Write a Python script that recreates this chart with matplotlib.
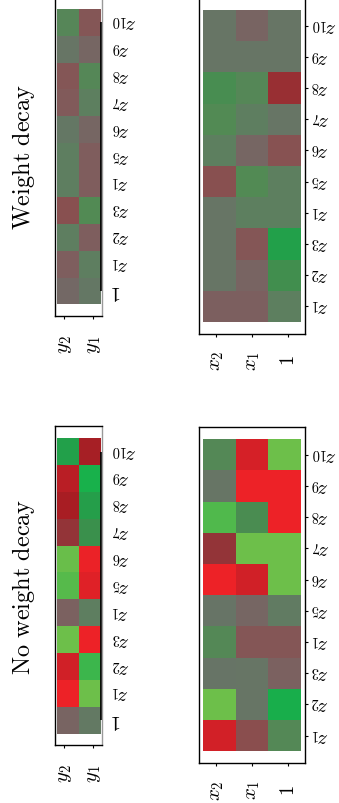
import numpy as np
import matplotlib
matplotlib.use("Agg")
import matplotlib.pyplot as plt
from matplotlib.colors import LinearSegmentedColormap

plt.rcParams["mathtext.fontset"] = "cm"

# terms (rows of the rotated picture, bottom to top)
OUT_TERMS = ["1", "z_1", "z_2", "z_3", "z_1", "z_5", "z_6", "z_7", "z_8", "z_9", "z_{10}"]
IN_TERMS = ["z_1", "z_2", "z_3", "z_1", "z_5", "z_6", "z_7", "z_8", "z_9", "z_{10}"]
OUT_VARS = ["y_2", "y_1"]
IN_VARS = ["x_2", "x_1", "1"]

# coefficients, one list per variable, ordered like OUT_TERMS / IN_TERMS
NWD_OUT = [
    [-0.10, -1.00, -0.80, 1.00, -0.12, 0.90, 0.98, -0.45, -0.60, -0.68, 0.60],
    [0.10, 1.00, 0.82, -1.00, 0.15, -0.90, -0.98, 0.45, 0.58, 0.72, -0.58],
]
NWD_IN = [
    [-0.82, 1.00, 0.05, 0.28, 0.05, -1.00, -0.45, 0.88, 0.06, 0.28],
    [-0.30, 0.06, 0.06, -0.22, -0.08, -0.80, 1.00, 0.35, -1.00, -0.84],
    [0.28, 0.70, -0.12, -0.22, 0.12, 1.00, 1.00, -1.00, -1.00, 1.00],
]
WD_OUT = [
    [-0.06, -0.15, 0.15, -0.28, 0.15, 0.15, 0.08, -0.18, -0.22, 0.06, 0.25],
    [0.08, 0.15, -0.15, 0.30, -0.16, -0.16, -0.08, 0.16, 0.26, -0.08, -0.22],
]
WD_IN = [
    [-0.14, 0.06, 0.06, 0.06, -0.28, 0.16, 0.30, 0.36, 0.06, 0.06],
    [-0.14, -0.10, -0.22, 0.16, 0.30, -0.08, 0.15, 0.26, 0.06, -0.10],
    [0.16, 0.40, 0.60, 0.16, 0.16, -0.26, 0.06, -0.48, 0.06, 0.06],
]
TITLES = ["No weight decay", "Weight decay"]

CMAP_STOPS = [
    (0.000, "#ed2227"), (0.100, "#cf2027"), (0.200, "#a81d23"),
    (0.275, "#933438"), (0.350, "#8a4e4e"), (0.425, "#7e5e5e"),
    (0.500, "#6c6f69"), (0.575, "#5e7e60"), (0.650, "#528a54"),
    (0.725, "#3a904c"), (0.800, "#22a04a"), (0.860, "#16b14b"),
    (0.930, "#4bb84c"), (1.000, "#6dbf4a"),
]
cmap = LinearSegmentedColormap.from_list("rg", CMAP_STOPS)

W, H = 339, 804
fig = plt.figure(figsize=(W / 100, H / 100), dpi=100)


def px_axes(x0, y0, x1, y1):
    # rectangle given in pixels, origin top left
    return fig.add_axes([x0 / W, 1 - y1 / H, (x1 - x0) / W, (y1 - y0) / H])


def heat(ax, vals):
    vals = np.asarray(vals)
    nx, ny = vals.shape
    ax.pcolormesh(np.arange(nx + 1) - 0.5, np.arange(ny + 1) - 0.5, vals.T,
                  cmap=cmap, vmin=-1, vmax=1, shading="flat", linewidth=0)
    for s in ax.spines.values():
        s.set_linewidth(1.0)


for k, (title, vout, vin) in enumerate(zip(TITLES, [NWD_OUT, WD_OUT], [NWD_IN, WD_IN])):
    dy = 429.3 * (1 - k)

    # output coefficients
    ax = px_axes(55.3, -2.6 + dy, 101.7, 316.7 + dy)
    heat(ax, vout)
    ax.set_xlim(-0.577, 1.532)
    ax.set_ylim(-0.92, 10.96)
    ax.yaxis.tick_right()
    ax.set_yticks(range(len(OUT_TERMS)))
    ax.set_yticklabels([f"${t}$" for t in OUT_TERMS], rotation=180, fontsize=15,
                       va="center")
    ax.tick_params(axis="y", length=0, pad=7)
    ax.set_xticks([-0.168, 1.123])
    ax.set_xticklabels([f"${v}$" for v in OUT_VARS], rotation=90, fontsize=15,
                       va="center")
    ax.tick_params(axis="x", length=2.2, width=0.8, pad=18)
    ax.spines["right"].set_color("#999999")
    ax.vlines(1.5, 0, len(OUT_TERMS) - 1, color="k", lw=1.3)
    ax.text(-0.696, 0.5, rf"$\mathrm{{{title.replace(' ', chr(92) + ' ')}}}$",
            transform=ax.transAxes, rotation=90, ha="center", va="center",
            fontsize=17.5)

    # input coefficients
    ax = px_axes(199.3, -1.7 + dy, 304.7, 335.0 + dy)
    heat(ax, vin)
    ax.set_xlim(-0.614, 2.623)
    ax.set_ylim(-0.885, 9.907)
    ax.yaxis.tick_right()
    ax.set_yticks(range(len(IN_TERMS)))
    ax.set_yticklabels([f"${t}$" for t in IN_TERMS], rotation=180, fontsize=15,
                       va="center")
    ax.tick_params(axis="y", length=1.8, width=0.8, pad=2.7)
    ax.set_xticks([-0.11, 0.995, 2.1])
    ax.set_xticklabels([f"${v}$" for v in IN_VARS], rotation=90, fontsize=15,
                       va="center")
    ax.tick_params(axis="x", length=2.2, width=0.8, pad=16.5)

fig.savefig("out.png", dpi=100)
